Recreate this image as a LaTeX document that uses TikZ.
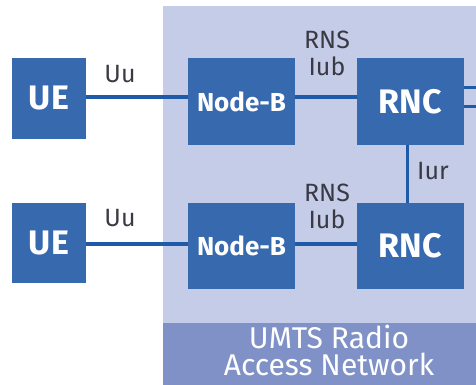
\documentclass[tikz,border=0pt]{standalone}
\usepackage{fontspec}
\setmainfont{Fira Sans}
\definecolor{boxblue}{HTML}{3669AE}
\definecolor{linkblue}{HTML}{1E5AA8}
\definecolor{panel}{HTML}{C5CCE8}
\definecolor{band}{HTML}{7F91C6}
\definecolor{labelc}{HTML}{3A3A45}
\tikzset{
  netbox/.style={draw=none, fill=boxblue, text=white, font=\bfseries\fontsize{34}{34}\selectfont, inner sep=0pt},
  nodeb/.style={netbox, font=\bfseries\fontsize{26}{26}\selectfont},
  link/.style={draw=linkblue, line width=3.5pt},
  lbl/.style={text=labelc, font=\fontsize{25}{27}\selectfont, align=center, inner sep=0pt}
}
\begin{document}
\begin{tikzpicture}[x=1pt,y=-1pt]
\useasboundingbox (0,0) rectangle (476,385);
% panel
\fill[panel] (163,6) rectangle (476,385);
\fill[band] (163,323) rectangle (476,385);
\node[text=white, font=\fontsize{30}{27}\selectfont, align=center, inner sep=0pt] (ran) at (329,350) {UMTS Radio\\Access Network};
% boxes
\node[netbox, minimum width=74pt, minimum height=81pt] (ue1) at (49,98.5) {UE};
\node[netbox, minimum width=74pt, minimum height=80pt] (ue2) at (49,243) {UE};
\node[nodeb, minimum width=107pt, minimum height=87pt] (nb1) at (241.5,101.5) {Node-B};
\node[nodeb, minimum width=107pt, minimum height=86pt] (nb2) at (241.5,246) {Node-B};
\node[netbox, minimum width=107pt, minimum height=87pt] (rnc1) at (410.5,101.5) {RNC};
\node[netbox, minimum width=107pt, minimum height=86pt] (rnc2) at (410.5,246) {RNC};
\coordinate (o1) at (476,87.5);
\coordinate (o2) at (476,106.5);
% links
\draw[link] (ue1.east |- 0,97) -- (nb1.west |- 0,97);
\draw[link] (ue2.east |- 0,244) -- (nb2.west |- 0,244);
\draw[link] (nb1.east |- 0,97) -- (rnc1.west |- 0,97);
\draw[link] (nb2.east |- 0,244) -- (rnc2.west |- 0,244);
\draw[link, line width=3pt] (rnc1.south -| 407,0) -- (rnc2.north -| 407,0);
\draw[link, line width=3pt] (rnc1.east |- o1) -- (o1);
\draw[link, line width=3pt] (rnc1.east |- o2) -- (o2);
% labels
\node[lbl] (uu1) at (120,74) {Uu};
\node[lbl] (uu2) at (120,218) {Uu};
\node[lbl] (rns1) at (327,53) {RNS\\Iub};
\node[lbl] (rns2) at (327,206) {RNS\\Iub};
\node[lbl] (iur) at (433,171) {Iur};
\end{tikzpicture}
\end{document}
